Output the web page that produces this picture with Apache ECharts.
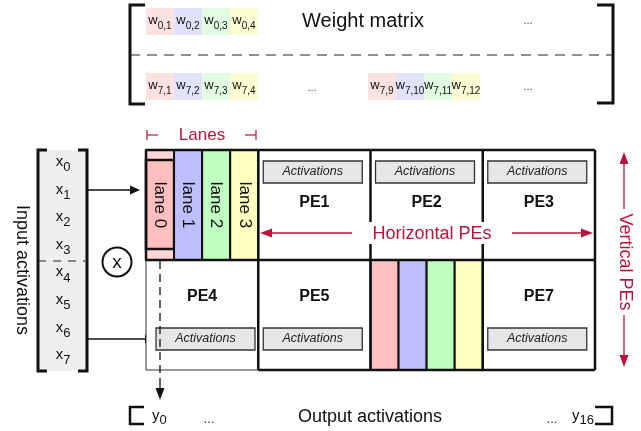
<!DOCTYPE html>
<html><head><meta charset="utf-8">
<script src="https://cdn.jsdelivr.net/npm/echarts@6/dist/echarts.min.js"></script>
<style>html,body{margin:0;padding:0;background:#fff}#c{width:641px;height:431px}</style>
</head><body><div id="c"></div>
<script>
// ---------- data ----------
const weightRowTop = ['0,1', '0,2', '0,3', '0,4'];
const weightRowBottomA = ['7,1', '7,2', '7,3', '7,4'];
const weightRowBottomB = ['7,9', '7,10', '7,11', '7,12'];
const inputIndices = ['0', '1', '2', '3', '4', '5', '6', '7'];
const laneNames = ['lane 0', 'lane 1', 'lane 2', 'lane 3'];
const peRowTop = ['LANES', 'PE1', 'PE2', 'PE3'];
const peRowBottom = ['PE4', 'PE5', 'LANES', 'PE7'];
const outputIndices = ['0', '16'];
const titleTexts = ['Weight matrix', 'Output activations', 'Input activations'];
const annotationTexts = ['Lanes', 'Horizontal PEs', 'Vertical PEs'];
const bufferText = ['Activations'];

// ---------- styles ----------
const FF = '"Liberation Sans", Arial, Helvetica, sans-serif';
const RED = '#b8143c';
const laneFill = ['#ffbfbf', '#bfbfff', '#bfffbf', '#ffffbf'];
const weightFill = ['#fde2e2', '#e2e2fd', '#e2fde2', '#fdfdd3'];

const mctx = document.createElement('canvas').getContext('2d');
function tw(t, font) { mctx.font = font; return mctx.measureText(t).width; }

function renderAll(params, api) {
  const kids = [];
  const P = (x, y) => api.coord([x, y]);
  const S = (w, h) => api.size([w, h]);
  const rect = (x, y, w, h, style) => {
    const p = P(x, y), s = S(w, h);
    kids.push({ type: 'rect', shape: { x: p[0], y: p[1], width: s[0], height: s[1] }, style });
  };
  const line = (x1, y1, x2, y2, style) => {
    const a = P(x1, y1), b = P(x2, y2);
    kids.push({ type: 'line', shape: { x1: a[0], y1: a[1], x2: b[0], y2: b[1] }, style });
  };
  const poly = (pts, style, closed) => {
    kids.push({ type: closed ? 'polygon' : 'polyline', shape: { points: pts.map(q => P(q[0], q[1])) }, style });
  };
  const txt = (x, y, text, font, fill, align, rot) => {
    const p = P(x, y);
    kids.push({ type: 'text', x: p[0], y: p[1], rotation: rot || 0,
      style: { x: 0, y: 0, text, font, fill, align: align || 'center', verticalAlign: 'middle',
               textAlign: align || 'center', textVerticalAlign: 'middle' } });
  };
  const arrow = (x1, y1, x2, y2, color, lw, hl, hw) => {
    const dx = x2 - x1, dy = y2 - y1, L = Math.hypot(dx, dy), ux = dx / L, uy = dy / L;
    const bx = x2 - ux * hl, by = y2 - uy * hl;
    line(x1, y1, bx, by, { stroke: color, lineWidth: lw });
    poly([[x2, y2], [bx - uy * hw / 2, by + ux * hw / 2], [bx + uy * hw / 2, by - ux * hw / 2]], { fill: color }, true);
  };
  // main + subscript; x is anchor by align, base is baseline of main
  const sub = (x, base, main, s, mSize, sSize, shift, align) => {
    const mf = mSize + 'px ' + FF, sf = sSize + 'px ' + FF;
    const wm = tw(main, mf), ws = tw(s, sf), tot = wm + ws;
    let x0 = align === 'left' ? x : align === 'right' ? x - tot : x - tot / 2;
    txt(x0, base - 0.34 * mSize, main, mf, '#111', 'left');
    txt(x0 + wm, base + shift - 0.34 * sSize, s, sf, '#111', 'left');
  };

  // ---- weight matrix ----
  const cw = 28, ch = 27;
  const wCells = (arr, gx, gy) => arr.forEach((lab, i) => {
    rect(gx + i * cw, gy, cw, ch, { fill: weightFill[i % 4] });
    sub(gx + i * cw + cw / 2, gy + 17, 'w', lab, 13, 10, 5, 'center');
  });
  wCells(weightRowTop, 146, 8);
  wCells(weightRowBottomA, 146, 73);
  wCells(weightRowBottomB, 368, 73);
  poly([[145, 5], [130, 5], [130, 104], [145, 104]], { stroke: '#111', lineWidth: 3, fill: null });
  poly([[597, 5], [613, 5], [613, 103], [597, 103]], { stroke: '#111', lineWidth: 3, fill: null });
  line(130, 55, 613, 55, { stroke: '#222', lineWidth: 1.2, lineDash: [10, 7] });
  txt(363, 21, titleTexts[0], '20px ' + FF, '#111');
  txt(528, 21, '...', '11px ' + FF, '#444');
  txt(312, 88, '...', '11px ' + FF, '#444');
  txt(528, 87, '...', '11px ' + FF, '#444');

  // ---- input activations ----
  rect(38, 150, 49, 221, { fill: '#efefef' });
  poly([[47, 150], [38, 150], [38, 371], [47, 371]], { stroke: '#111', lineWidth: 3, fill: null });
  poly([[78, 150], [87, 150], [87, 371], [78, 371]], { stroke: '#111', lineWidth: 3, fill: null });
  line(38, 261, 87, 261, { stroke: '#222', lineWidth: 1.2, lineDash: [8, 7] });
  inputIndices.forEach((s, i) => sub(63, 167 + i * 27.6, 'x', s, 15, 13, 5, 'center'));
  txt(22, 270, titleTexts[2], '18px ' + FF, '#111', 'center', -Math.PI / 2);
  arrow(88, 190, 140, 190, '#111', 1.3, 10, 9);
  arrow(88, 339, 155, 339, '#111', 1.3, 10, 9);
  kids.push({ type: 'circle', shape: { cx: P(117, 262)[0], cy: P(117, 262)[1], r: S(14.5, 0)[0] },
              style: { fill: '#fff', stroke: '#111', lineWidth: 2 } });
  txt(117, 263, 'x', '19px ' + FF, '#111');

  // ---- PE grid ----
  const gx = 146, gy = 150, colW = 112.25, rowH = 110;
  const drawLanes = (cx, cy, withText) => {
    laneNames.forEach((ln, i) => {
      const lx = cx + i * colW / 4, lw = colW / 4;
      if (withText && i === 0) {
        rect(lx, cy, lw, rowH, { fill: '#ffd6d6', stroke: '#111', lineWidth: 2 });
        rect(lx, cy + 10, lw, rowH - 21, { fill: laneFill[0], stroke: '#111', lineWidth: 2.5 });
      } else {
        rect(lx, cy, lw, rowH, { fill: laneFill[i], stroke: '#111', lineWidth: 2 });
      }
      if (withText) txt(lx + lw / 2, cy + 55, ln, '17px ' + FF, '#111', 'center', -Math.PI / 2);
    });
  };
  const drawPE = (name, c, r) => {
    const cx = gx + c * colW, cy = gy + r * rowH;
    if (name === 'LANES') { drawLanes(cx, cy, r === 0); return; }
    const by = r === 0 ? cy + 11 : cy + 68;
    const bx = c === 0 ? cx + 10 : cx + 5;
    rect(bx, by, 99, 22, { fill: '#e6e6e6', stroke: '#333', lineWidth: 1.3 });
    txt(bx + 49.5, by + 11, bufferText[0], 'italic 12.5px ' + FF, '#222');
    txt(cx + colW / 2, r === 0 ? cy + 53 : cy + 37, name, 'bold 16px ' + FF, '#111');
  };
  // PE4 thin outline
  rect(gx, gy + rowH, colW, rowH, { fill: '#fff', stroke: '#333', lineWidth: 1 });
  peRowTop.forEach((n, c) => drawPE(n, c, 0));
  peRowBottom.forEach((n, c) => drawPE(n, c, 1));
  const thick = { stroke: '#111', lineWidth: 2.5 };
  const gR = gx + 4 * colW;
  line(gx, gy, gR, gy, thick);
  line(gx, gy + rowH, gR, gy + rowH, thick);
  line(gx + colW, gy + 2 * rowH, gR, gy + 2 * rowH, thick);
  line(gx, gy, gx, gy + rowH, thick);
  line(gR, gy, gR, gy + 2 * rowH, thick);
  for (let c = 1; c < 4; c++) line(gx + c * colW, gy, gx + c * colW, gy + 2 * rowH, thick);

  // output dashed line
  line(160, 261, 160, 385, { stroke: '#111', lineWidth: 1.3, lineDash: [8, 5] });
  arrow(160, 385, 160, 400, '#111', 1.3, 12, 9);

  // ---- annotations ----
  txt(202, 135, annotationTexts[0], '17px ' + FF, RED);
  line(147, 130, 147, 140, { stroke: RED, lineWidth: 1.2 });
  line(147, 135, 158, 135, { stroke: RED, lineWidth: 1.2 });
  line(256, 130, 256, 140, { stroke: RED, lineWidth: 1.2 });
  line(245, 135, 256, 135, { stroke: RED, lineWidth: 1.2 });
  rect(366, 222, 132, 22, { fill: '#fff' });
  txt(432, 234, annotationTexts[1], '18px ' + FF, RED);
  arrow(352, 233, 260, 233, RED, 1.3, 12, 9);
  arrow(512, 233, 593, 233, RED, 1.3, 12, 9);
  txt(625, 262, annotationTexts[2], '18px ' + FF, RED, 'center', -Math.PI / 2);
  arrow(624, 209, 624, 152, RED, 1.3, 12, 9);
  arrow(624, 315, 624, 367, RED, 1.3, 12, 9);

  // ---- output activations ----
  poly([[144, 407], [130, 407], [130, 424], [144, 424]], { stroke: '#111', lineWidth: 2.5, fill: null });
  poly([[595, 407], [612, 407], [612, 424], [595, 424]], { stroke: '#111', lineWidth: 2.5, fill: null });
  sub(152, 421, 'y', outputIndices[0], 15, 13, 4, 'left');
  sub(594, 421, 'y', outputIndices[1], 15, 13, 4, 'right');
  txt(209, 419, '...', '13px ' + FF, '#333');
  txt(552, 419, '...', '13px ' + FF, '#333');
  txt(370, 417, titleTexts[1], '18px ' + FF, '#111');

  return { type: 'group', children: kids };
}

const chart = echarts.init(document.getElementById('c'), null, { renderer: 'canvas' });
chart.setOption({
  animation: false,
  backgroundColor: '#fff',
  grid: { left: 0, top: 0, width: 641, height: 431 },
  xAxis: { type: 'value', min: 0, max: 641, show: false },
  yAxis: { type: 'value', min: 0, max: 431, inverse: true, show: false },
  series: [{ type: 'custom', renderItem: renderAll, data: [[0, 0]], silent: true, clip: false }]
});
</script></body></html>
